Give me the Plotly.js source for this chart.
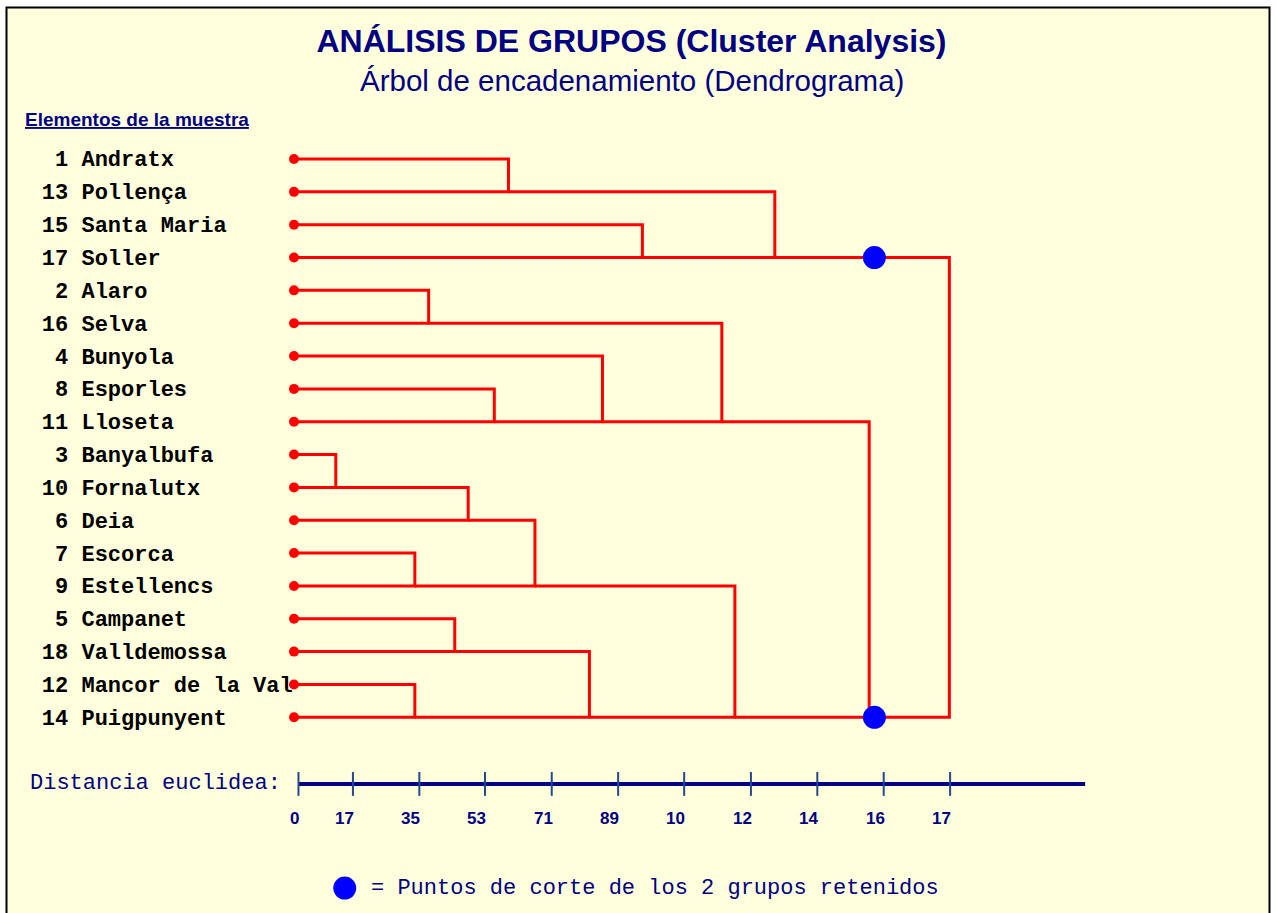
<!DOCTYPE html>
<html>
<head>
<meta charset="utf-8">
<script src="https://cdn.plot.ly/plotly-3.0.1.min.js"></script>
<style>html,body{margin:0;padding:0;background:#fff;overflow:hidden}</style>
</head>
<body>
<div id="chart" style="width:1277px;height:913px"></div>
<script>
// ---- data ----
const leafNumbers = [1, 13, 15, 17, 2, 16, 4, 8, 11, 3, 10, 6, 7, 9, 5, 18, 12, 14];
const leafNames = ['Andratx', 'Pollença', 'Santa Maria', 'Soller', 'Alaro', 'Selva', 'Bunyola',
  'Esporles', 'Lloseta', 'Banyalbufa', 'Fornalutx', 'Deia', 'Escorca', 'Estellencs', 'Campanet',
  'Valldemossa', 'Mancor de la Val', 'Puigpunyent'];
// clusters 0..17 are the leaves (in drawing order); merge k creates cluster 18+k
const mergeLeft   = [9, 12, 16, 4, 14, 18, 7, 0, 23, 22, 6, 2, 21, 26, 25, 30, 32];
const mergeRight  = [10, 13, 17, 5, 15, 11, 8, 1, 19, 20, 24, 3, 28, 27, 29, 31, 33];
const mergeHeight = [1.12, 3.24, 3.24, 3.61, 4.31, 4.67, 5.37, 5.75, 6.46, 7.92, 8.27, 9.34, 11.47, 11.82, 12.89, 15.42, 17.57];
const cutHeight = 15.56;
const cutClusters = [32, 33];
const tickValues = [0.12, 1.58, 3.36, 5.12, 6.91, 8.69, 10.46, 12.25, 14.03, 15.81, 17.59];
const tickLabels = ['0', '17', '35', '53', '71', '89', '10', '12', '14', '16', '17'];
const axisEnd = 21.21;

// ---- layout placement (not data) ----
const P = {
  labelX: -6.76, labelRowShift: 0.06, axisRow: 19.03, tickLabelRow: 20.07, axisLabelX: -7.13,
  legendRow: 22.2, legendDotX: 1.36, legendTextX: 2.0
};
const RED = '#FF0000', BLUE = '#0000FF', NAVY = '#000080';
const MONO = 'Liberation Mono, Courier New, monospace';
const SANS = 'Liberation Sans, Arial, sans-serif';

// cluster geometry
const nLeaf = leafNames.length;
const cRow = [], cH = [];
for (let i = 0; i < nLeaf; i++) { cRow.push(i); cH.push(0); }
const lx = [], ly = [];
for (let k = 0; k < mergeHeight.length; k++) {
  const a = mergeLeft[k], b = mergeRight[k], h = mergeHeight[k];
  lx.push(cH[a], h, h, cH[b], null);
  ly.push(cRow[a], cRow[a], cRow[b], cRow[b], null);
  cRow.push(Math.max(cRow[a], cRow[b]));
  cH.push(h);
}

const labelText = leafNumbers.map((n, i) => (n < 10 ? '\u00a0' : '') + n + ' ' + leafNames[i]);
const rows = leafNames.map((_, i) => i);

const traces = [
  { type: 'scatter', mode: 'text', x: rows.map(() => P.labelX), y: rows.map(r => r + P.labelRowShift), text: labelText,
    textposition: 'middle right', cliponaxis: false,
    textfont: { family: MONO, size: 22, color: '#000000', weight: 'bold' }, hoverinfo: 'skip' },
  { type: 'scatter', mode: 'lines', x: lx, y: ly, line: { color: RED, width: 3 }, hoverinfo: 'skip' },
  { type: 'scatter', mode: 'markers', x: rows.map(() => 0), y: rows,
    marker: { color: RED, size: 10 }, hoverinfo: 'skip' },
  { type: 'scatter', mode: 'markers', x: cutClusters.map(() => cutHeight), y: cutClusters.map(c => cRow[c]),
    marker: { color: BLUE, size: 23 }, hoverinfo: 'skip' },
  { type: 'scatter', mode: 'lines', x: [tickValues[0], axisEnd], y: [P.axisRow, P.axisRow],
    line: { color: NAVY, width: 4 }, hoverinfo: 'skip' },
  { type: 'scatter', mode: 'markers', x: tickValues, y: tickValues.map(() => P.axisRow),
    marker: { symbol: 'line-ns', size: 17, line: { color: '#24468f', width: 2 } }, hoverinfo: 'skip' },
  { type: 'scatter', mode: 'markers', x: [P.legendDotX], y: [P.legendRow], cliponaxis: false,
    marker: { color: BLUE, size: 23 }, hoverinfo: 'skip' }
];

const annotations = tickValues.map((v, i) => ({
  x: v, y: P.tickLabelRow, xref: 'x', yref: 'y', text: '<b>' + tickLabels[i] + '</b>', showarrow: false,
  xanchor: 'right', yanchor: 'middle', xshift: 3,
  font: { family: SANS, size: 17, color: NAVY }
}));
annotations.push(
  { x: P.axisLabelX, y: P.axisRow, xref: 'x', yref: 'y', text: 'Distancia euclidea:', showarrow: false,
    xanchor: 'left', yanchor: 'middle', font: { family: MONO, size: 22, color: NAVY } },
  { x: P.legendTextX, y: P.legendRow, xref: 'x', yref: 'y', text: '= Puntos de corte de los 2 grupos retenidos',
    showarrow: false, xanchor: 'left', yanchor: 'middle', font: { family: MONO, size: 22, color: NAVY } },
  { x: 631.5 / 1277, y: 1 - 80 / 913, xref: 'paper', yref: 'paper', text: 'Árbol de encadenamiento (Dendrograma)',
    showarrow: false, xanchor: 'center', yanchor: 'middle', font: { family: SANS, size: 29.5, color: NAVY } },
  { x: 23 / 1277, y: 1 - 119 / 913, xref: 'paper', yref: 'paper', text: '<b><u>Elementos de la muestra</u></b>',
    showarrow: false, xanchor: 'left', yanchor: 'middle', font: { family: SANS, size: 19, color: NAVY } }
);

const layout = {
  width: 1277, height: 913,
  margin: { l: 0, r: 0, t: 0, b: 0, pad: 0 },
  paper_bgcolor: '#FFFFFF', plot_bgcolor: 'rgba(0,0,0,0)',
  showlegend: false,
  title: { text: '<b>ANÁLISIS DE GRUPOS (Cluster Analysis)</b>', x: 631.5 / 1277, xanchor: 'center',
    y: 1 - 41 / 913, yanchor: 'middle', font: { family: SANS, size: 32, color: NAVY } },
  xaxis: { range: [-294 / 37.3, 983 / 37.3], visible: false, fixedrange: true },
  yaxis: { range: [(913 - 159) / 32.84, -159 / 32.84], visible: false, fixedrange: true },
  shapes: [{ type: 'rect', xref: 'paper', yref: 'paper', x0: 6.5 / 1277, x1: 1269.5 / 1277,
    y0: -0.05, y1: 1 - 7.5 / 913, fillcolor: '#FFFFDE', line: { color: '#000000', width: 2 }, layer: 'below' }],
  annotations: annotations
};

Plotly.newPlot('chart', traces, layout, { staticPlot: true, displayModeBar: false });
</script>
</body>
</html>
